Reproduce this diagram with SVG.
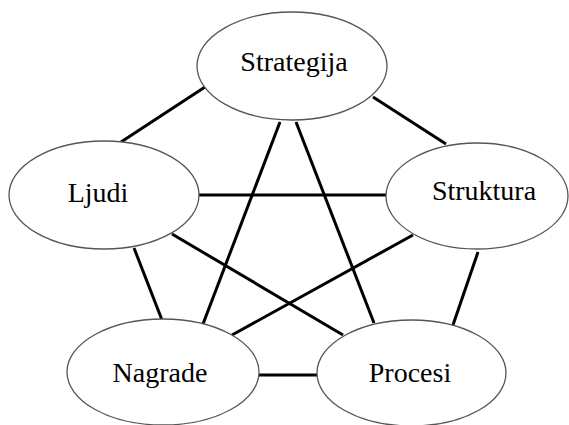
<svg xmlns="http://www.w3.org/2000/svg" width="569" height="425" viewBox="0 0 569 425">
<style>
.node ellipse{fill:#fff;stroke:#555;stroke-width:1.3}
.node text{font-family:"Liberation Serif","Times New Roman",serif;font-size:28px;fill:#000;text-anchor:middle}
#connectors line{stroke:#000;stroke-width:3;stroke-linecap:butt}
</style>
<rect width="569" height="425" fill="#fff"/>
<g id="connectors">
<line x1="121" y1="142" x2="205" y2="87"/>
<line x1="373" y1="97" x2="446" y2="144"/>
<line x1="197" y1="195" x2="388" y2="195"/>
<line x1="280" y1="122" x2="203" y2="324"/>
<line x1="296" y1="122" x2="374" y2="323"/>
<line x1="134" y1="248" x2="162" y2="320"/>
<line x1="172" y1="234" x2="343" y2="335"/>
<line x1="413" y1="235" x2="232" y2="335"/>
<line x1="478" y1="252" x2="453" y2="325"/>
<line x1="259" y1="375" x2="317" y2="375"/>
</g>
<g id="strategija" class="node"><ellipse cx="292" cy="66" rx="95" ry="54"/><text x="294" y="71">Strategija</text></g>
<g id="ljudi" class="node"><ellipse cx="104" cy="195" rx="95" ry="54"/><text x="98" y="202">Ljudi</text></g>
<g id="struktura" class="node"><ellipse cx="477" cy="196" rx="91" ry="53"/><text x="484" y="200">Struktura</text></g>
<g id="nagrade" class="node"><ellipse cx="163" cy="372" rx="96" ry="53"/><text x="160" y="382">Nagrade</text></g>
<g id="procesi" class="node"><ellipse cx="411.5" cy="373" rx="94.5" ry="53"/><text x="410" y="382">Procesi</text></g>
</svg>
